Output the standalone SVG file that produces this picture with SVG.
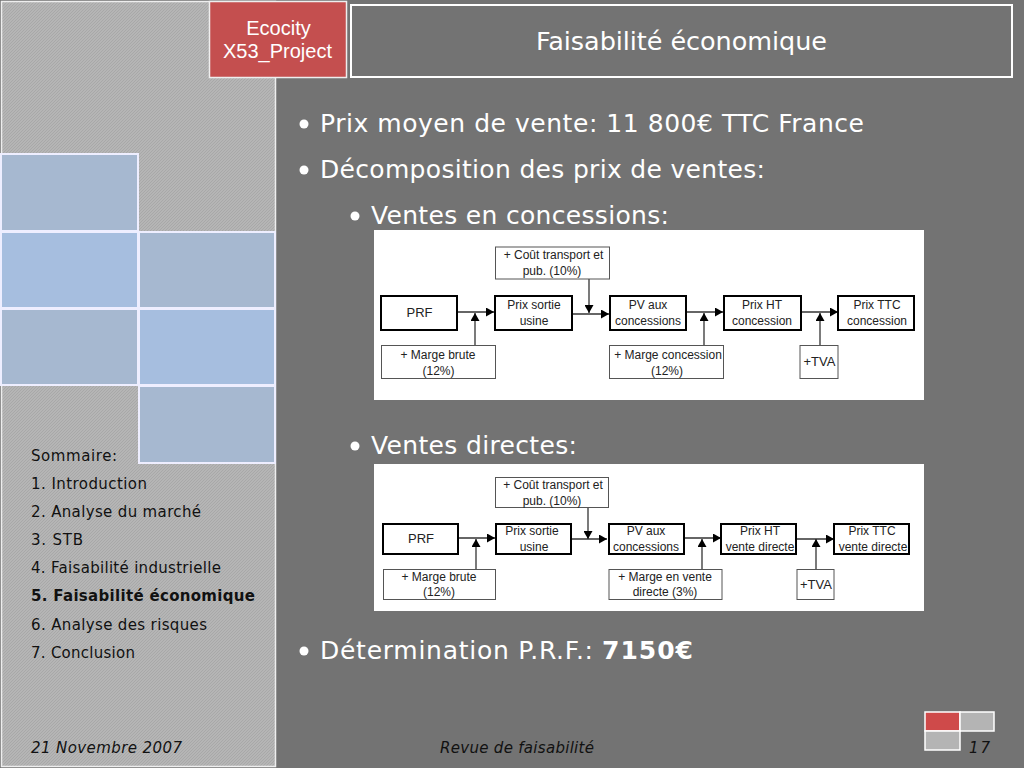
<svg xmlns="http://www.w3.org/2000/svg" width="1024" height="768" viewBox="0 0 1024 768">
<style>
.t{font-family:"DejaVu Sans",Verdana,sans-serif;fill:#fff}
.b{font-size:25px}
.s{font-family:"DejaVu Sans",Verdana,sans-serif;font-size:15px;fill:#111}
.f{font-family:"DejaVu Sans",Verdana,sans-serif;font-size:15px;font-style:italic;fill:#111}
.n{font-family:"Liberation Sans",Arial,sans-serif;font-size:12px;fill:#222;text-anchor:middle}
.v{font-size:13px}
.k{fill:#fff;stroke:#000;stroke-width:2}
.a{fill:#fff;stroke:#555;stroke-width:1}
.c{fill:none;stroke:#333;stroke-width:1.300}
</style>
<defs>
<pattern id="h" width="3" height="3" patternUnits="userSpaceOnUse">
<rect width="3" height="3" fill="#b5b5b5"/>
<path d="M0 3L3 0M-1 1L1 -1M2 4L4 2" stroke="#a8a8a8" stroke-width="1"/>
</pattern>
<marker id="m" markerUnits="userSpaceOnUse" markerWidth="9" markerHeight="9" refX="8" refY="4.500" orient="auto"><path d="M0 0L8 4.500L0 9Z" fill="#000"/></marker>
</defs>
<rect width="1024" height="768" fill="#737373"/>
<g id="panel"><rect x="1.500" y="1.500" width="274" height="765" fill="url(#h)" stroke="#eee" stroke-width="1.500"/></g>
<g id="tiles" stroke="#eef" stroke-width="2">
<rect x="1" y="154" width="137" height="77" fill="#a6b8d0"/>
<rect x="1" y="232" width="137" height="76" fill="#a6bedf"/>
<rect x="139" y="232" width="136" height="76" fill="#a6b8d0"/>
<rect x="1" y="309" width="137" height="76" fill="#a6b8d0"/>
<rect x="139" y="309" width="136" height="76" fill="#a6bedf"/>
<rect x="139" y="386" width="136" height="77" fill="#a6b8d0"/>
</g>
<g id="logo">
<rect x="209.500" y="1.500" width="137" height="76" fill="#c44f4f" stroke="#eee" stroke-width="1.500"/>
<text x="278.500" y="35" font-family="Liberation Sans,Arial,sans-serif" font-size="20" fill="#fff" text-anchor="middle">Ecocity</text>
<text x="277.500" y="58" font-family="Liberation Sans,Arial,sans-serif" font-size="20" fill="#fff" text-anchor="middle">X53_Project</text>
</g>
<g id="title">
<rect x="351" y="5" width="661" height="72" fill="#737373" stroke="#fff" stroke-width="2"/>
<text class="t" x="536" y="50" font-size="25.500" textLength="291">Faisabilité économique</text>
</g>
<g id="bullets">
<circle cx="304" cy="124" r="4.500" fill="#fff"/><text class="t b" x="320" y="132" textLength="544">Prix moyen de vente: 11 800€ TTC France</text>
<circle cx="304" cy="170" r="4.500" fill="#fff"/><text class="t b" x="320" y="178" textLength="445">Décomposition des prix de ventes:</text>
<circle cx="355" cy="216" r="4.500" fill="#fff"/><text class="t b" x="371" y="224" textLength="298">Ventes en concessions:</text>
<circle cx="355" cy="446" r="4.500" fill="#fff"/><text class="t b" x="371" y="454" textLength="206">Ventes directes:</text>
<circle cx="304" cy="651" r="4.500" fill="#fff"/><text class="t b" x="320" y="659" textLength="273">Détermination P.R.F.:</text><text class="t b" x="602" y="659" font-weight="bold" textLength="91">7150€</text>
</g>
<g id="sommaire">
<text class="s" x="31" y="461" textLength="86">Sommaire:</text>
<text class="s" x="31" y="489" textLength="116">1. Introduction</text>
<text class="s" x="31" y="517" textLength="170">2. Analyse du marché</text>
<text class="s" x="31" y="545" textLength="52">3. STB</text>
<text class="s" x="31" y="573" textLength="190">4. Faisabilité industrielle</text>
<text class="s" x="31" y="601" font-weight="bold" textLength="224">5. Faisabilité économique</text>
<text class="s" x="31" y="630" textLength="176">6. Analyse des risques</text>
<text class="s" x="31" y="658" textLength="104">7. Conclusion</text>
</g>
<g id="footer">
<text class="f" x="31" y="753" textLength="151">21 Novembre 2007</text>
<text class="f" x="440" y="753" textLength="154">Revue de faisabilité</text>
<text class="f" x="969" y="753" textLength="21">17</text>
</g>
<g id="nav" stroke="#fff" stroke-width="1.500">
<rect x="925" y="712" width="35" height="19" fill="#cf4a4a"/>
<rect x="960" y="712" width="34" height="19" fill="#b4b4b4"/>
<rect x="925" y="731" width="35" height="19" fill="#b4b4b4"/>
</g>
<g id="backgrounds">
<rect x="374" y="230" width="550" height="170" fill="#fff"/>
<rect x="374" y="464" width="550" height="147" fill="#fff"/>
</g>
<g id="connectors1">
<path class="c" d="M457 312H494" marker-end="url(#m)"/>
<path class="c" d="M475 345V313" marker-end="url(#m)"/>
<path class="c" d="M572 314H609" marker-end="url(#m)"/>
<path class="c" d="M589 279V313" marker-end="url(#m)"/>
<path class="c" d="M686 312H723" marker-end="url(#m)"/>
<path class="c" d="M704 345V313" marker-end="url(#m)"/>
<path class="c" d="M801 312H838" marker-end="url(#m)"/>
<path class="c" d="M820 345V313" marker-end="url(#m)"/>
</g>
<g id="n1-prf"><rect class="k" x="381" y="296" width="76" height="34"/><text class="n v" x="419.500" y="317">PRF</text></g>
<g id="n1-sortie"><rect class="k" x="495" y="296" width="77" height="34"/><text class="n" x="534" y="309">Prix sortie</text><text class="n" x="534" y="325">usine</text></g>
<g id="n1-pv"><rect class="k" x="610" y="296" width="76" height="34"/><text class="n" x="648" y="309">PV aux</text><text class="n" x="648" y="325">concessions</text></g>
<g id="n1-ht"><rect class="k" x="724" y="296" width="77" height="34"/><text class="n" x="762" y="309">Prix HT</text><text class="n" x="762" y="325">concession</text></g>
<g id="n1-ttc"><rect class="k" x="838" y="296" width="76" height="34"/><text class="n" x="877" y="309">Prix TTC</text><text class="n" x="877" y="325">concession</text></g>
<g id="n1-cout"><rect class="a" x="495.500" y="247" width="114" height="32"/><text class="n" x="553.500" y="259">+ Coût transport et</text><text class="n" x="552" y="275">pub. (10%)</text></g>
<g id="n1-marge"><rect class="a" x="381.500" y="345.500" width="114" height="33"/><text class="n" x="438" y="359">+ Marge brute</text><text class="n" x="438.500" y="375">(12%)</text></g>
<g id="n1-mconc"><rect class="a" x="609.500" y="345.500" width="114" height="33"/><text class="n" x="668" y="359">+ Marge concession</text><text class="n" x="667" y="375">(12%)</text></g>
<g id="n1-tva"><rect class="a" x="800" y="345.500" width="38" height="33"/><text class="n v" x="819.500" y="366">+TVA</text></g>
<g id="connectors2">
<path class="c" d="M458 538H495" marker-end="url(#m)"/>
<path class="c" d="M476 569V539" marker-end="url(#m)"/>
<path class="c" d="M572 539H607" marker-end="url(#m)"/>
<path class="c" d="M588 507V539" marker-end="url(#m)"/>
<path class="c" d="M685 538H721" marker-end="url(#m)"/>
<path class="c" d="M702 569V539" marker-end="url(#m)"/>
<path class="c" d="M796 539H834" marker-end="url(#m)"/>
<path class="c" d="M816 569V539" marker-end="url(#m)"/>
</g>
<g id="n2-prf"><rect class="k" x="383" y="524" width="75" height="30"/><text class="n v" x="421" y="543">PRF</text></g>
<g id="n2-sortie"><rect class="k" x="496" y="524" width="75" height="30"/><text class="n" x="532" y="535">Prix sortie</text><text class="n" x="534" y="551">usine</text></g>
<g id="n2-pv"><rect class="k" x="609" y="524" width="75" height="30"/><text class="n" x="646" y="535">PV aux</text><text class="n" x="646" y="551">concessions</text></g>
<g id="n2-ht"><rect class="k" x="721" y="524" width="75" height="30"/><text class="n" x="760" y="535">Prix HT</text><text class="n" x="760" y="551">vente directe</text></g>
<g id="n2-ttc"><rect class="k" x="834" y="524" width="75" height="30"/><text class="n" x="872" y="535">Prix TTC</text><text class="n" x="873" y="551">vente directe</text></g>
<g id="n2-cout"><rect class="a" x="495.500" y="477.500" width="113" height="30"/><text class="n" x="553" y="489">+ Coût transport et</text><text class="n" x="552" y="505">pub. (10%)</text></g>
<g id="n2-marge"><rect class="a" x="383.500" y="569.500" width="112" height="30"/><text class="n" x="439" y="581">+ Marge brute</text><text class="n" x="439" y="596">(12%)</text></g>
<g id="n2-mvente"><rect class="a" x="609" y="569.500" width="113" height="30"/><text class="n" x="665" y="581">+ Marge en vente</text><text class="n" x="665" y="596">directe (3%)</text></g>
<g id="n2-tva"><rect class="a" x="797" y="569.500" width="37" height="30"/><text class="n v" x="816" y="589">+TVA</text></g>
</svg>
